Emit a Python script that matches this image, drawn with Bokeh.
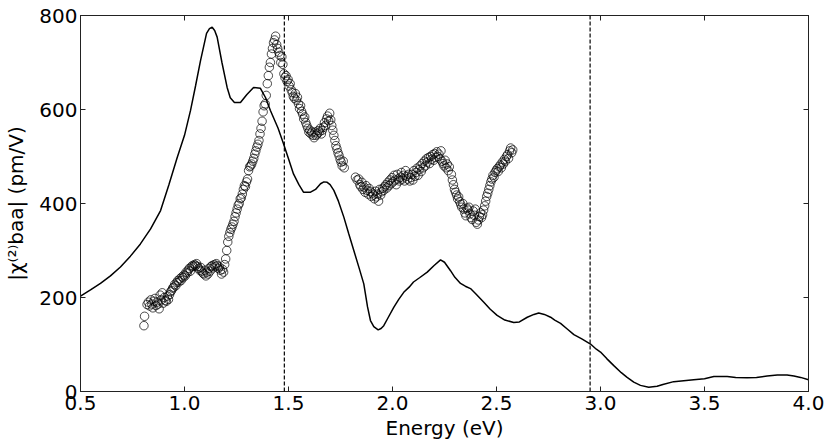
from bokeh.plotting import figure
from bokeh.models import (Span, LinearAxis, FixedTicker, CustomJSTickFormatter, Range1d,
                          PrintfTickFormatter)
from bokeh.embed import file_html
from bokeh.resources import INLINE

# Theory curve (energy in eV, |chi| in pm/V)
TH_E = [0.5, 0.548, 0.596, 0.644, 0.692, 0.74, 0.788, 0.837, 0.885, 0.925, 0.965, 1.0,
        1.029, 1.053, 1.077, 1.106, 1.12, 1.133, 1.145, 1.157, 1.18, 1.205, 1.22, 1.24,
        1.269, 1.30, 1.332, 1.365, 1.39, 1.413, 1.45, 1.476, 1.50, 1.524, 1.55, 1.572,
        1.606, 1.63, 1.654, 1.67, 1.686, 1.70, 1.718, 1.74, 1.766, 1.79, 1.814, 1.84,
        1.862, 1.88, 1.894, 1.91, 1.931, 1.945, 1.958, 1.98, 2.006, 2.03, 2.054, 2.08,
        2.101, 2.13, 2.167, 2.20, 2.231, 2.25, 2.279, 2.30, 2.327, 2.35, 2.375, 2.40,
        2.439, 2.47, 2.503, 2.54, 2.583, 2.61, 2.648, 2.68, 2.703, 2.73, 2.76, 2.78,
        2.808, 2.84, 2.872, 2.91, 2.952, 2.98, 3.0, 3.03, 3.064, 3.10, 3.128, 3.16,
        3.192, 3.232, 3.272, 3.30, 3.352, 3.40, 3.448, 3.50, 3.545, 3.58, 3.609, 3.65,
        3.705, 3.75, 3.801, 3.85, 3.897, 3.93, 3.962, 4.0]
TH_Y = [203, 216, 230, 246, 265, 288, 314, 346, 385, 440, 498, 545,
        598, 650, 704, 762, 772, 775, 768, 754, 700, 647, 625, 615,
        615, 632, 647, 645, 625, 598, 560, 527, 495, 463, 440, 424,
        424, 430, 442, 446, 445, 440, 428, 405, 371, 335, 300, 262,
        229, 180, 151, 138, 131, 134, 140, 158, 179, 196, 211, 222,
        233, 242, 254, 268, 280, 275, 257, 243, 230, 224, 219, 208,
        190, 175, 162, 152, 147, 148, 158, 164, 167, 164, 158, 152,
        145, 133, 121, 112, 101, 90, 84, 70, 55, 40, 30, 20,
        13, 9, 11, 15, 21, 23, 25, 27, 32, 32, 32, 30,
        29, 30, 33, 35, 35, 33, 30, 25]

# Experimental points
EXP_E = [0.805, 0.808, 0.82, 0.826, 0.832, 0.838, 0.843, 0.848, 0.853, 0.858, 0.863, 0.868,
         0.873, 0.878, 0.883, 0.888, 0.893, 0.898, 0.903, 0.908, 0.913, 0.918, 0.923, 0.928,
         0.933, 0.938, 0.943, 0.948,
         0.953, 0.958, 0.963, 0.968, 0.973, 0.978, 0.983, 0.988, 0.993, 0.998, 1.003, 1.008,
         1.013, 1.018, 1.023, 1.028, 1.033, 1.038, 1.043, 1.048, 1.053, 1.058, 1.063, 1.068,
         1.073, 1.078, 1.083, 1.088, 1.093, 1.098, 1.103, 1.108, 1.113, 1.118, 1.123, 1.128,
         1.133, 1.138, 1.143, 1.148, 1.153, 1.158, 1.163, 1.168, 1.173, 1.178, 1.183, 1.188,
         1.193,
         1.198, 1.203, 1.208, 1.213, 1.218, 1.223, 1.228, 1.233, 1.238, 1.243, 1.248, 1.253,
         1.258, 1.263, 1.268, 1.273, 1.278, 1.283, 1.288, 1.293, 1.298, 1.303, 1.308, 1.313,
         1.318, 1.323, 1.328, 1.333, 1.338, 1.343, 1.348, 1.353, 1.358, 1.363, 1.368, 1.373,
         1.378, 1.383, 1.388, 1.393, 1.398, 1.403, 1.408, 1.413, 1.418, 1.423, 1.428, 1.433,
         1.438,
         1.443, 1.448, 1.453, 1.458, 1.463, 1.468, 1.473, 1.478, 1.483, 1.488, 1.493, 1.498,
         1.503, 1.508, 1.513, 1.518, 1.523, 1.528, 1.533, 1.538, 1.543, 1.548, 1.553, 1.558,
         1.563, 1.568, 1.573, 1.578, 1.583, 1.588, 1.593, 1.598,
         1.603, 1.608, 1.613, 1.618, 1.623, 1.628, 1.633, 1.638, 1.643, 1.648, 1.653, 1.658,
         1.663, 1.668, 1.673, 1.678, 1.683, 1.688, 1.693, 1.698, 1.703, 1.708, 1.713, 1.718,
         1.723, 1.728, 1.733, 1.738, 1.743, 1.748, 1.753, 1.758, 1.763, 1.768,
         1.822, 1.83, 1.838, 1.843, 1.848, 1.853, 1.858, 1.863, 1.868, 1.873, 1.878, 1.883,
         1.888, 1.893, 1.898, 1.903, 1.908, 1.913, 1.918, 1.923, 1.928, 1.933, 1.938, 1.943,
         1.948, 1.953, 1.958, 1.963, 1.968, 1.973, 1.978, 1.983, 1.988, 1.993, 1.998, 2.003,
         2.008, 2.013, 2.018, 2.023, 2.028, 2.033, 2.038, 2.043, 2.048, 2.053, 2.058, 2.063,
         2.068, 2.073, 2.078, 2.083, 2.088, 2.093, 2.098, 2.103, 2.108, 2.113, 2.118, 2.123,
         2.128, 2.133, 2.138, 2.143, 2.148, 2.153, 2.158, 2.163, 2.168, 2.173, 2.178, 2.183,
         2.188, 2.193, 2.198, 2.203, 2.208, 2.213, 2.218, 2.223, 2.228, 2.233, 2.238, 2.243,
         2.248, 2.253, 2.258, 2.263, 2.268, 2.273,
         2.283, 2.288, 2.293, 2.298, 2.303, 2.308, 2.313, 2.318, 2.323, 2.328, 2.333, 2.338,
         2.343, 2.348, 2.353, 2.358, 2.363, 2.368, 2.373, 2.378, 2.383, 2.388, 2.393, 2.398,
         2.403, 2.408, 2.413, 2.418, 2.423, 2.428, 2.433, 2.438, 2.443, 2.448, 2.453, 2.458,
         2.463, 2.468, 2.473, 2.478, 2.483, 2.488, 2.493, 2.498, 2.503, 2.508, 2.513, 2.518,
         2.523, 2.528, 2.533, 2.538, 2.543, 2.548, 2.553, 2.558, 2.563, 2.568, 2.573, 2.578]
EXP_Y = [140, 160, 185, 190, 182, 195, 186, 178, 192, 198, 183, 190,
         186, 176, 205, 195, 210, 188, 200, 194, 192, 203, 196, 206,
         212, 215, 220, 222,
         228, 225, 232, 236, 233, 240, 236, 244, 242, 248, 246, 254,
         252, 258, 262, 256, 265, 268, 266, 270, 268, 272, 266, 262,
         258, 264, 256, 252, 250, 258, 246, 254, 250, 262, 256, 266,
         268, 263, 270, 266, 272, 268, 262, 265, 258, 250, 260, 254,
         270,
         282, 300, 318, 330, 338, 345, 350, 356, 362, 372, 380, 388,
         396, 400, 410, 412, 420, 430, 438, 436, 446, 452, 470, 478,
         480, 484, 490, 496, 505, 512, 520, 526, 534, 548, 560, 575,
         595, 608, 612, 630, 655, 672, 690, 700, 718, 730, 742, 748,
         756,
         738, 730, 722, 715, 700, 712, 696, 676, 668, 672, 660, 664,
         650, 655, 642, 636, 628, 624, 634, 620, 626, 612, 602, 608,
         596, 590, 580, 584, 572, 566, 560, 552,
         556, 548, 552, 545, 540, 552, 545, 548, 555, 552, 560, 548,
         556, 562, 572, 566, 580, 586, 576, 592, 578, 566, 556, 545,
         534, 523, 516, 508, 502, 494, 488, 480, 490, 476,
         456, 450, 452, 440, 436, 445, 430, 435, 424, 438, 428, 420,
         432, 426, 415, 422, 418, 410, 426, 414, 420, 405, 430, 418,
         425, 432, 428, 436, 440, 433, 445, 438, 450, 442, 455, 446,
         460, 450, 440, 462, 452, 448, 456, 466, 452, 460, 448, 470,
         458, 452, 462, 448, 455, 462, 450, 470, 458, 466, 475, 460,
         472, 480, 468, 485, 476, 490, 480, 495, 488, 498, 485, 500,
         494, 504, 492, 506, 498, 510, 500, 505, 495, 512, 490, 485,
         480, 492, 476, 484, 470, 478,
         462, 450, 440, 430, 424, 418, 410, 414, 404, 398, 392, 400,
         388, 380, 374, 390, 386, 392, 378, 370, 366, 384, 375, 388,
         360, 356, 365, 372, 380, 370, 376, 386, 395, 405, 415, 422,
         430, 438, 446, 452, 460, 456, 466, 470, 474, 468, 478, 482,
         476, 488, 484, 494, 490, 500, 504, 496, 512, 518, 508, 514]

VLINES = [1.48, 2.95]
X_TICKS = [0.5, 1.0, 1.5, 2.0, 2.5, 3.0, 3.5, 4.0]
Y_TICKS = [0, 200, 400, 600, 800]

FONT = "DejaVu Sans"

p = figure(width=830, height=442, output_backend="svg", toolbar_location=None,
           x_range=Range1d(0.5, 4.0), y_range=Range1d(0, 800),
           min_border_left=80, min_border_right=22, min_border_top=15, min_border_bottom=51)
p.background_fill_color = "white"
p.border_fill_color = "white"
p.grid.visible = False
p.outline_line_color = "#222222"
p.outline_line_width = 1

for ax in (p.xaxis[0], p.yaxis[0]):
    ax.major_label_text_font = FONT
    ax.major_label_text_font_size = "20px"
    ax.major_label_text_color = "black"
    ax.axis_label_text_font = FONT
    ax.axis_label_text_font_size = "20px"
    ax.axis_label_text_font_style = "normal"
    ax.axis_label_text_color = "black"
    ax.major_tick_in = 5
    ax.major_tick_out = 0
    ax.minor_tick_line_color = None
    ax.axis_line_color = "#222222"
    ax.major_tick_line_color = "#222222"

p.xaxis[0].ticker = FixedTicker(ticks=X_TICKS)
p.xaxis[0].formatter = PrintfTickFormatter(format="%.1f")
p.yaxis[0].ticker = FixedTicker(ticks=Y_TICKS)
p.yaxis[0].formatter = PrintfTickFormatter(format="%d")
p.xaxis[0].major_label_standoff = 4
p.yaxis[0].major_label_standoff = 3
p.xaxis[0].axis_label = "Energy (eV)"
p.xaxis[0].axis_label_standoff = 3
p.yaxis[0].axis_label = "|χ⁽²⁾baa| (pm/V)"
p.yaxis[0].axis_label_standoff = 8

blank = CustomJSTickFormatter(code="return ''")
top = LinearAxis(ticker=FixedTicker(ticks=X_TICKS), formatter=blank,
                 major_tick_in=5, major_tick_out=0, minor_tick_line_color=None,
                 major_label_text_font_size="0px", major_label_standoff=0,
                 axis_line_color="#222222", major_tick_line_color="#222222")
right = LinearAxis(ticker=FixedTicker(ticks=Y_TICKS), formatter=blank,
                   major_tick_in=5, major_tick_out=0, minor_tick_line_color=None,
                   major_label_text_font_size="0px", major_label_standoff=0,
                   axis_line_color="#222222", major_tick_line_color="#222222")
p.add_layout(top, "above")
p.add_layout(right, "right")

p.line(TH_E, TH_Y, line_color="black", line_width=1.5)
p.scatter(EXP_E, EXP_Y, marker="circle", size=8.5, fill_color=None,
          line_color="black", line_width=0.7)

for xv in VLINES:
    p.add_layout(Span(location=xv, dimension="height", line_color="black",
                      line_width=1.2, line_dash="4 2"))

open("out.html", "w").write(file_html(p, INLINE))
